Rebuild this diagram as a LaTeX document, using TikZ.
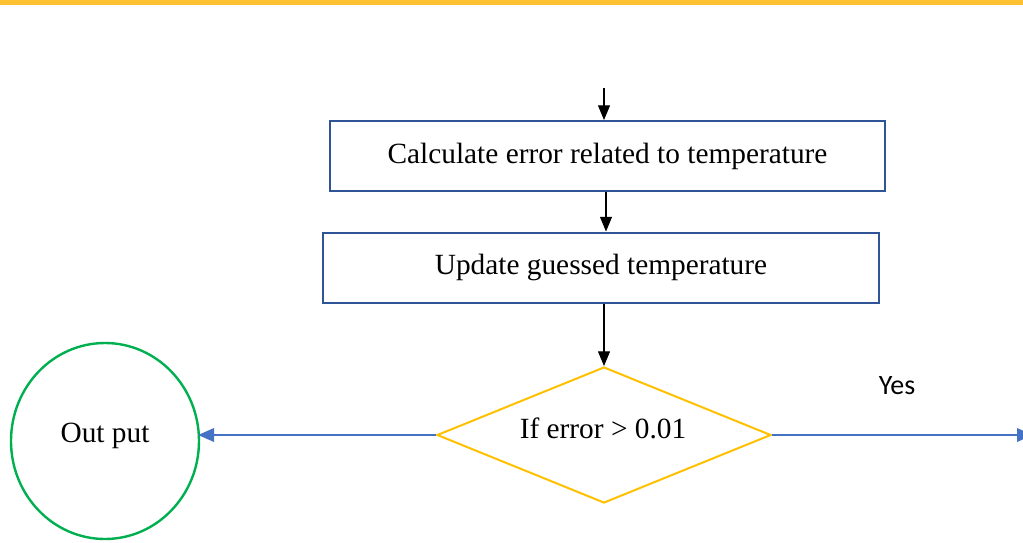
\documentclass[tikz,border=0pt]{standalone}
\usepackage{fontspec}
\setmainfont{Liberation Serif}
\newfontfamily\yesfont{Carlito}
\usetikzlibrary{arrows.meta,shapes.geometric}
\definecolor{topbar}{HTML}{FFC134}
\definecolor{boxblue}{HTML}{2F5597}
\definecolor{diayel}{HTML}{FFC000}
\definecolor{arrblue}{HTML}{4472C4}
\definecolor{circgreen}{HTML}{00B050}
\begin{document}
\begin{tikzpicture}[x=0.75pt,y=-0.75pt,
  txt/.style={font=\fontsize{22}{24}\selectfont},
  procbox/.style={draw=boxblue,line width=1.5pt,minimum height=52.5pt,inner sep=0pt,txt},
  blk/.style={-{Triangle[length=11pt,width=9pt]},line width=0.8pt,black},
  blu/.style={-{Triangle[length=12pt,width=10pt]},line width=1.8pt,arrblue}]
\useasboundingbox (0,0) rectangle (1023,542);
\clip (0,0) rectangle (1023,542);
\fill[topbar] (0,0) rectangle (1023,5.5);
\node[procbox,minimum width=416pt] (calc) at (607.5,156) {Calculate error related to temperature};
\node[procbox,minimum width=417pt] (upd) at (601,267.5) {Update guessed temperature};
\node[diamond,draw=diayel,line width=1.5pt,minimum width=250.5pt,minimum height=102pt,inner sep=0pt] (dia) at (604,435) {};
\node[txt] (diat) at (603,428) {If error > 0.01};
\node[ellipse,draw=circgreen,line width=1.8pt,minimum width=141pt,minimum height=147pt,inner sep=0pt] (out) at (105,441) {};
\node[txt] (outt) at (105,436) {Out put};
\coordinate (start) at (604,88);
\coordinate (lend) at (198,435);
\coordinate (rend) at (1033,435);
\draw[blk] (start) -- (calc.north -| start);
\draw[blk] (calc.south -| 606,0) -- (upd.north -| 606,0);
\draw[blk] (upd.south -| dia.north) -- (dia.north);
\draw[blu] (dia.west) -- (lend);
\draw[blu] (dia.east) -- (rend);
\node[font=\yesfont\fontsize{21}{24}\selectfont] (yes) at (897,386) {Yes};
\end{tikzpicture}
\end{document}
